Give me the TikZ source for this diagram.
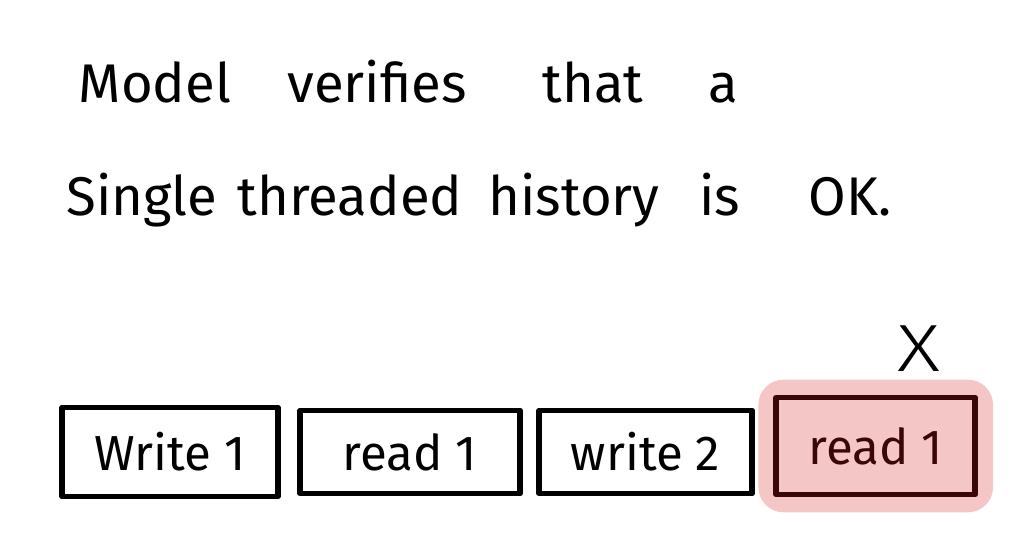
\documentclass[tikz,border=0pt]{standalone}
\usepackage{fontspec}
\setmainfont{Fira Sans}
\newfontfamily\thinfont{Fira Sans Light}
\usetikzlibrary{positioning,fit,backgrounds}
\definecolor{errfill}{HTML}{F5C6C6}
\definecolor{errline}{HTML}{3A0606}

\tikzset{
  word/.style={anchor=base, inner sep=0pt, font=\fontsize{31}{35}\selectfont},
  opbox/.style={draw, line width=3.2pt, line join=round, minimum height=1.66cm,
    inner sep=0pt, font=\fontsize{28}{32}\selectfont},
  errbox/.style={opbox, draw=errline, text=errline, fill=errfill, minimum height=1.94cm},
}

\begin{document}
\begin{tikzpicture}[x=0.02cm, y=-0.02cm]
  \useasboundingbox (0,0) rectangle (1021,558);

  % headline, one word at a time
  \foreach \w/\x in {Model/155, verifies/377, that/593, a/723}
    \node[word] (top-\x) at (\x,102) {\w};
  \foreach \w/\x in {Single/142, threaded/350, history/574, is/720, OK./850}
    \node[word] (bot-\x) at (\x,215) {\w};

  % the history
  \node[opbox, minimum width=4.32cm, minimum height=1.78cm] (write1) at (170,452) {Write 1};
  \node[opbox, minimum width=4.4cm, right=0.33cm of write1] (read1) {read 1};
  \node[opbox, minimum width=4.26cm, right=0.27cm of read1] (write2) {write 2};
  \node[errbox, minimum width=3.98cm, right=0.37cm of write2, yshift=0.12cm] (read2) {read 1};

  \begin{scope}[on background layer]
    \node[fill=errfill, rounded corners=0.5cm, inner sep=0.3cm, fit=(read2)] (glow) {};
  \end{scope}

  \node[font=\thinfont\fontsize{38}{42}\selectfont, inner sep=0pt, anchor=south,
    above=0.46cm of read2.north, xshift=0.86cm, xscale=1.25] (fail) {X};
\end{tikzpicture}
\end{document}
